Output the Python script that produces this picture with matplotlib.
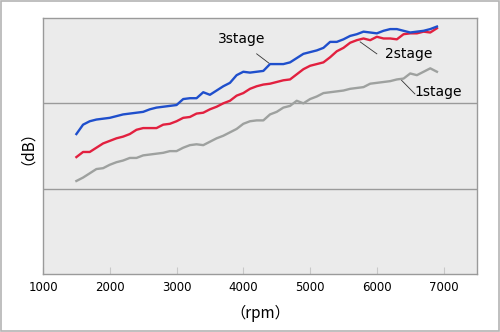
import numpy as np
import matplotlib.pyplot as plt
from matplotlib.patches import Rectangle


# обороты двигателя, шаг 100 rpm
rpm = np.arange(1500, 7000, 100)

# значения (условные единицы, ось без подписей)
stage3 = [16.4, 17.5, 17.9, 18.1, 18.2, 18.3, 18.5, 18.7, 18.8, 18.9,
          19.0, 19.3, 19.5, 19.6, 19.7, 19.8, 20.5, 20.6, 20.6, 21.3,
          21.0, 21.5, 22.0, 22.4, 23.3, 23.7, 23.6, 23.7, 23.8, 24.6,
          24.6, 24.6, 24.8, 25.3, 25.8, 26.0, 26.2, 26.5, 27.2, 27.2,
          27.5, 27.9, 28.1, 28.4, 28.3, 28.2, 28.5, 28.7, 28.7, 28.5,
          28.3, 28.4, 28.5, 28.7, 29.0]
stage2 = [13.7, 14.3, 14.3, 14.8, 15.3, 15.6, 15.9, 16.1, 16.4, 16.9,
          17.1, 17.1, 17.1, 17.5, 17.6, 17.9, 18.3, 18.4, 18.8, 18.9,
          19.3, 19.6, 20.0, 20.3, 20.9, 21.2, 21.7, 22.0, 22.2, 22.3,
          22.5, 22.7, 22.8, 23.4, 24.0, 24.4, 24.6, 24.8, 25.4, 26.1,
          26.5, 27.1, 27.4, 27.6, 27.4, 27.8, 27.6, 27.6, 27.5, 28.1,
          28.2, 28.2, 28.4, 28.3, 28.8]
stage1 = [10.9, 11.3, 11.8, 12.3, 12.4, 12.8, 13.1, 13.3, 13.6, 13.6,
          13.9, 14.0, 14.1, 14.2, 14.4, 14.4, 14.8, 15.1, 15.2, 15.1,
          15.5, 15.9, 16.2, 16.6, 17.0, 17.6, 17.9, 18.0, 18.0, 18.7,
          19.0, 19.5, 19.7, 20.3, 20.0, 20.5, 20.8, 21.2, 21.3, 21.4,
          21.5, 21.7, 21.8, 21.9, 22.3, 22.4, 22.5, 22.6, 22.8, 22.9,
          23.5, 23.3, 23.7, 24.1, 23.7]

xticks = [1000, 2000, 3000, 4000, 5000, 6000, 7000]


def main():
    fig = plt.figure(figsize=(5.0, 3.32), dpi=100)
    fig.patches.append(Rectangle((0.001, 0.002), 0.997, 0.995, transform=fig.transFigure,
                                 fill=False, edgecolor='#b4b4b4', linewidth=1.2))
    ax = fig.add_axes([0.086, 0.1747, 0.868, 0.7711])
    ax.set_facecolor('#ebebeb')

    ax.set_xlim(1000, 7500)
    ax.set_ylim(0, 30)
    for y in (10, 20):
        ax.axhline(y, color='#9a9a9a', linewidth=1.0, zorder=1)

    ax.plot(rpm, stage1, color='#9ea19f', linewidth=1.7, zorder=3)
    ax.plot(rpm, stage2, color='#e2203f', linewidth=1.7, zorder=4)
    ax.plot(rpm, stage3, color='#1f4fcc', linewidth=1.7, zorder=5)

    # подписи кривых с выносками
    ax.text(3620, 27.5, '3stage', fontsize=10, ha='left', va='center')
    ax.plot([4200, 4385], [25.8, 24.7], color='#333333', linewidth=0.6)
    ax.text(6120, 25.8, '2stage', fontsize=10, ha='left', va='center')
    ax.plot([5750, 6000], [27.2, 25.8], color='#333333', linewidth=0.6)
    ax.text(6570, 21.3, '1stage', fontsize=10, ha='left', va='center')
    ax.plot([6370, 6570], [22.7, 21.1], color='#333333', linewidth=0.6)

    ax.set_xticks(xticks)
    ax.set_yticks([])
    ax.tick_params(axis='x', direction='in', length=5, color='#c8c8c8',
                   labelsize=8.5, pad=5)
    for s in ax.spines.values():
        s.set_color('#9a9a9a')
        s.set_linewidth(1.0)

    ax.set_xlabel('（rpm）', fontsize=11, family=['Noto Sans CJK JP', 'DejaVu Sans'],
                  labelpad=8)
    ax.set_ylabel('（dB）', fontsize=11, family=['Noto Sans CJK JP', 'DejaVu Sans'])
    ax.yaxis.set_label_coords(-0.035, 0.523)

    fig.savefig('out.png', dpi=100)


if __name__ == '__main__':
    main()
